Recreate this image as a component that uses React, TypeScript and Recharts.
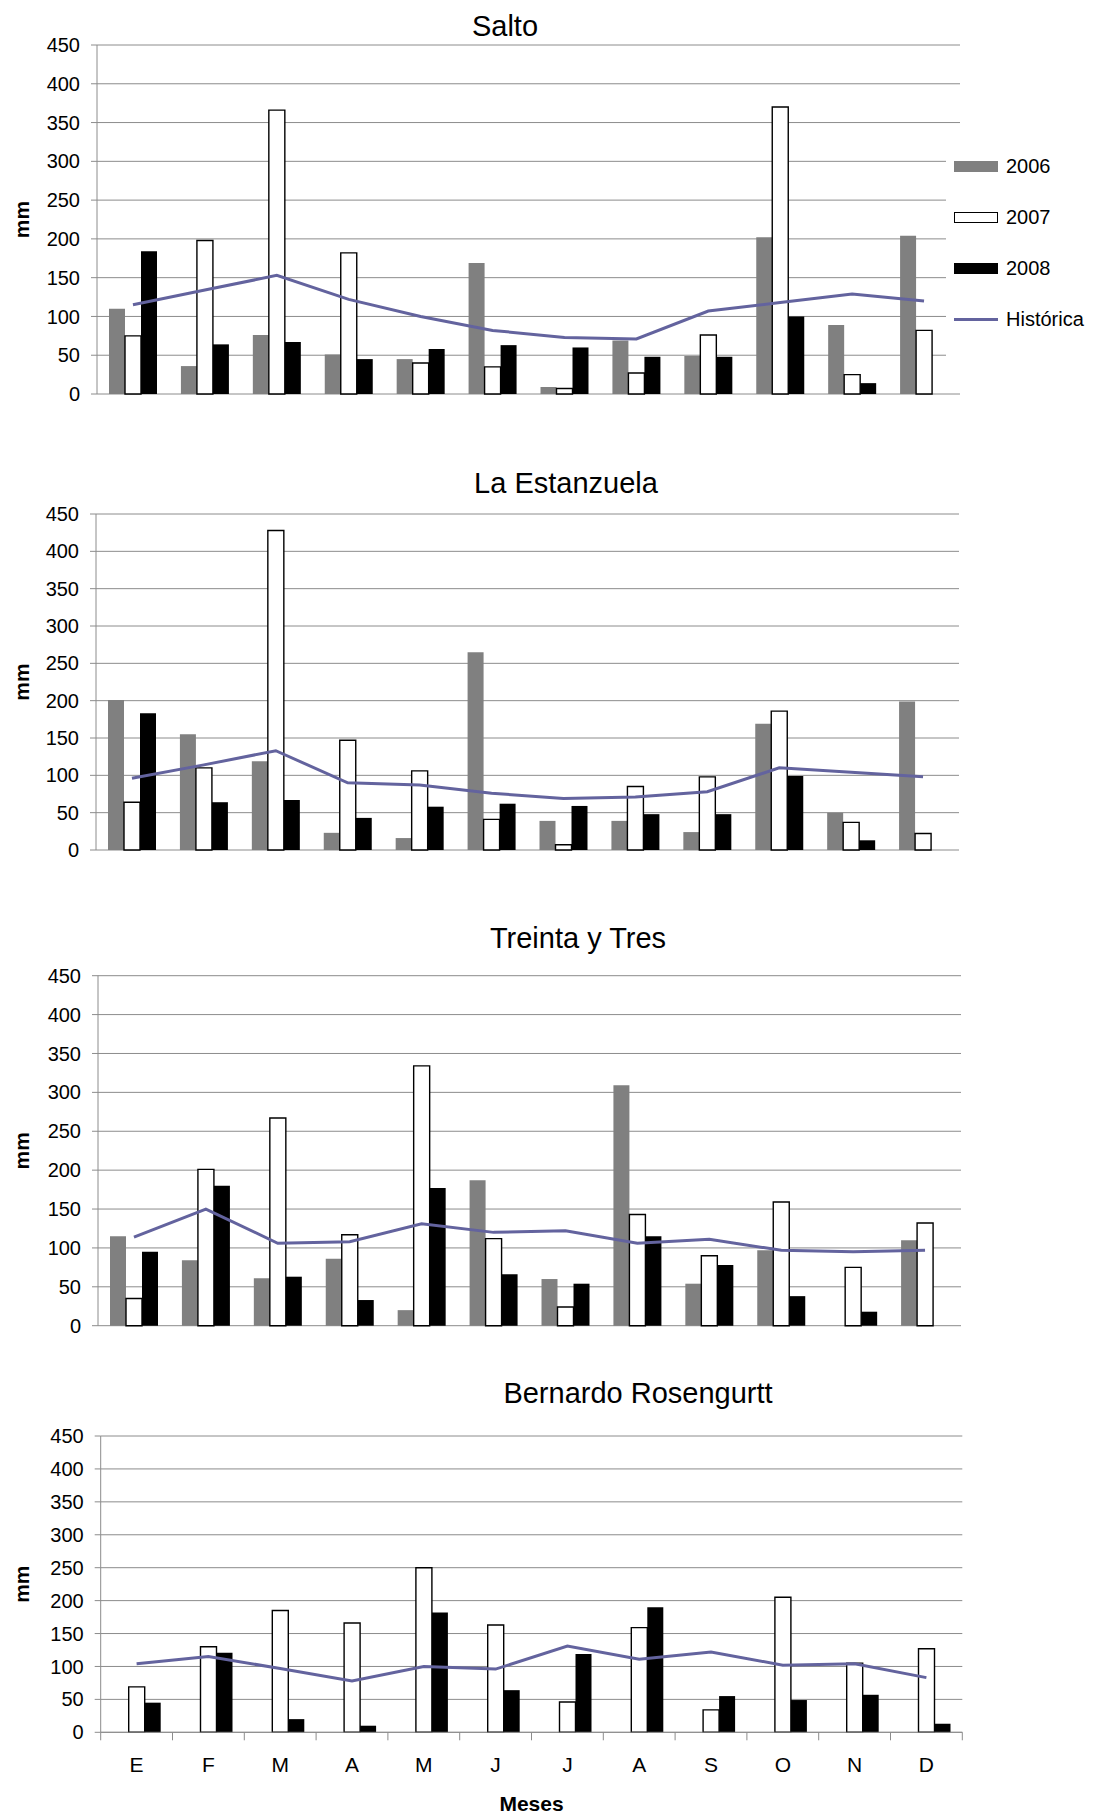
import {
	Bar,
	CartesianGrid,
	ComposedChart,
	Legend,
	Line,
	XAxis,
	YAxis,
} from "recharts";

const MONTHS = ["E", "F", "M", "A", "M", "J", "J", "A", "S", "O", "N", "D"];
const Y_TICKS = [0, 50, 100, 150, 200, 250, 300, 350, 400, 450];

// precipitación mensual (mm) por estación
const SALTO_2006 = [110, 36, 76, 51, 45, 169, 9, 69, 49, 202, 89, 204];
const SALTO_2007 = [75, 198, 366, 182, 40, 35, 7, 27, 76, 370, 25, 82];
const SALTO_2008 = [184, 64, 67, 45, 58, 63, 60, 48, 48, 100, 14, null];
const SALTO_HIST = [115, 134, 153, 122, 100, 82, 73, 71, 107, 118, 129, 120];

const ESTANZUELA_2006 = [201, 155, 119, 23, 16, 265, 39, 39, 24, 169, 50, 199];
const ESTANZUELA_2007 = [64, 110, 428, 147, 106, 41, 7, 85, 98, 186, 37, 22];
const ESTANZUELA_2008 = [183, 64, 67, 43, 58, 62, 59, 48, 48, 99, 13, null];
const ESTANZUELA_HIST = [96, 114, 133, 90, 87, 76, 69, 71, 78, 110, 104, 98];

const TREINTA_2006 = [115, 84, 61, 86, 20, 187, 60, 309, 54, 97, null, 110];
const TREINTA_2007 = [35, 201, 267, 117, 334, 112, 24, 143, 90, 159, 75, 132];
const TREINTA_2008 = [95, 180, 63, 33, 177, 66, 54, 115, 78, 38, 18, null];
const TREINTA_HIST = [114, 150, 106, 108, 131, 120, 122, 106, 111, 97, 95, 97];

const ROSENGURTT_2006 = [null, null, null, null, null, null, null, null, null, null, null, null];
const ROSENGURTT_2007 = [69, 130, 185, 166, 250, 163, 46, 159, 34, 205, 105, 127];
const ROSENGURTT_2008 = [45, 121, 20, 10, 182, 64, 119, 190, 55, 49, 57, 13];
const ROSENGURTT_HIST = [104, 115, 97, 78, 100, 96, 131, 111, 122, 102, 104, 83];

const FONT = '"Liberation Sans", Arial, Helvetica, sans-serif';
const GRID = "#8c8c8c";
const C2006 = "#808080";
const HIST_COLOR = "#63639e";

type Row = {
	mes: string;
	y2006: number | null;
	y2007: number | null;
	y2008: number | null;
	historica: number;
};

const buildRows = (
	a: (number | null)[],
	b: (number | null)[],
	c: (number | null)[],
	h: number[],
): Row[] =>
	MONTHS.map((mes, i) => ({ mes, y2006: a[i], y2007: b[i], y2008: c[i], historica: h[i] }));

type Panel = {
	title: string;
	titleX: number;
	titleY: number;
	top: number;
	height: number;
	y450: number;
	y0: number;
	left: number;
	right: number;
	legend?: boolean;
	months?: boolean;
	rows: Row[];
};

const PANELS: Panel[] = [
	{
		title: "Salto",
		titleX: 505,
		titleY: 26,
		top: 0,
		height: 420,
		y450: 45,
		y0: 394,
		left: 97,
		right: 960,
		legend: true,
		rows: buildRows(SALTO_2006, SALTO_2007, SALTO_2008, SALTO_HIST),
	},
	{
		title: "La Estanzuela",
		titleX: 566,
		titleY: 483,
		top: 440,
		height: 440,
		y450: 514,
		y0: 850,
		left: 96,
		right: 959,
		rows: buildRows(ESTANZUELA_2006, ESTANZUELA_2007, ESTANZUELA_2008, ESTANZUELA_HIST),
	},
	{
		title: "Treinta y Tres",
		titleX: 578,
		titleY: 938,
		top: 900,
		height: 450,
		y450: 975.7,
		y0: 1325.7,
		left: 98,
		right: 961,
		rows: buildRows(TREINTA_2006, TREINTA_2007, TREINTA_2008, TREINTA_HIST),
	},
	{
		title: "Bernardo Rosengurtt",
		titleX: 638,
		titleY: 1393,
		top: 1360,
		height: 456,
		y450: 1436,
		y0: 1732.3,
		left: 100.7,
		right: 962.3,
		months: true,
		rows: buildRows(ROSENGURTT_2006, ROSENGURTT_2007, ROSENGURTT_2008, ROSENGURTT_HIST),
	},
];

const LEGEND_ITEMS = [
	{ label: "2006", kind: "box", fill: C2006, stroke: "none" },
	{ label: "2007", kind: "box", fill: "#fff", stroke: "#000" },
	{ label: "2008", kind: "box", fill: "#000", stroke: "none" },
	{ label: "Histórica", kind: "line", fill: "none", stroke: HIST_COLOR },
];

function SeriesLegend() {
	return (
		<div style={{ paddingTop: 6, paddingLeft: 8 }}>
			{LEGEND_ITEMS.map((item) => (
				<div key={item.label} style={{ height: 51, display: "flex", alignItems: "center" }}>
					{item.kind === "box" ? (
						<div
							style={{
								width: 44,
								height: 11,
								boxSizing: "border-box",
								background: item.fill,
								border: item.stroke === "none" ? "none" : `1.5px solid ${item.stroke}`,
							}}
						/>
					) : (
						<div style={{ width: 44, height: 3, background: item.stroke }} />
					)}
					<span style={{ marginLeft: 8, fontSize: 20, color: "#000" }}>{item.label}</span>
				</div>
			))}
		</div>
	);
}

function MonthTick(props: any) {
	const { x, y, payload, index, band } = props;
	const axisY = y - 10;
	const edge = x - band / 2;
	return (
		<g>
			<line x1={edge} x2={edge} y1={axisY} y2={axisY + 8} stroke={GRID} />
			{index === MONTHS.length - 1 && (
				<line x1={x + band / 2} x2={x + band / 2} y1={axisY} y2={axisY + 8} stroke={GRID} />
			)}
			<text x={x} y={y + 22} dy="0.36em" textAnchor="middle" fontSize={21} fill="#000">
				{payload.value}
			</text>
		</g>
	);
}

function StationChart({ panel }: { panel: Panel }) {
	const { top, height, y450, y0, left, right, months, legend } = panel;
	const bottomGap = height - (y0 - top);
	const band = (right - left) / MONTHS.length;
	return (
		<>
			<div
				style={{
					position: "absolute",
					left: panel.titleX,
					top: panel.titleY,
					transform: "translate(-50%, -50%)",
					fontSize: 29,
					lineHeight: 1,
					whiteSpace: "nowrap",
				}}
			>
				{panel.title}
			</div>
			<div style={{ position: "absolute", left: 0, top, width: 1094, height }}>
				<ComposedChart
					width={1094}
					height={height}
					data={panel.rows}
					margin={{ top: y450 - top, bottom: months ? 0 : bottomGap, left: 0, right: 1094 - right }}
					barCategoryGap={12}
					barGap={0}
				>
					<CartesianGrid vertical={false} stroke={GRID} />
					<XAxis
						dataKey="mes"
						hide={!months}
						height={months ? bottomGap : 0}
						interval={0}
						axisLine={{ stroke: GRID }}
						tickLine={false}
						tickSize={8}
						tickMargin={2}
						tick={(p: any) => <MonthTick {...p} band={band} />}
						label={
							months
								? {
										value: "Meses",
										position: "insideBottom",
										offset: 5,
										fontSize: 21,
										fontWeight: "bold",
										fill: "#000",
									}
								: undefined
						}
					/>
					<YAxis
						width={left}
						domain={[0, 450]}
						ticks={Y_TICKS}
						interval={0}
						tickSize={6}
						tickMargin={11}
						axisLine={{ stroke: GRID }}
						tickLine={{ stroke: GRID }}
						tick={{ fill: "#000", fontSize: 20 }}
						label={{
							value: "mm",
							angle: -90,
							position: "insideLeft",
							offset: 22,
							textAnchor: "middle",
							fontSize: 21,
							fontWeight: "bold",
							fill: "#000",
						}}
					/>
					<Bar dataKey="y2006" name="2006" fill={C2006} isAnimationActive={false} />
					<Bar
						dataKey="y2007"
						name="2007"
						fill="#fff"
						stroke="#000"
						strokeWidth={1.4}
						isAnimationActive={false}
					/>
					<Bar dataKey="y2008" name="2008" fill="#000" isAnimationActive={false} />
					<Line
						dataKey="historica"
						name="Histórica"
						type="linear"
						stroke={HIST_COLOR}
						strokeWidth={3}
						dot={false}
						isAnimationActive={false}
					/>
					{legend && (
						<Legend
							layout="vertical"
							align="center"
							verticalAlign="middle"
							wrapperStyle={{ left: 946, top: 135, width: 148, height: 250, background: "#fff" }}
							content={() => <SeriesLegend />}
						/>
					)}
				</ComposedChart>
			</div>
		</>
	);
}

export default function App() {
	return (
		<div
			style={{
				position: "absolute",
				left: 0,
				top: 0,
				width: 1094,
				height: 1816,
				background: "#fff",
				fontFamily: FONT,
				color: "#000",
			}}
		>
			{PANELS.map((panel) => (
				<StationChart key={panel.title} panel={panel} />
			))}
		</div>
	);
}
